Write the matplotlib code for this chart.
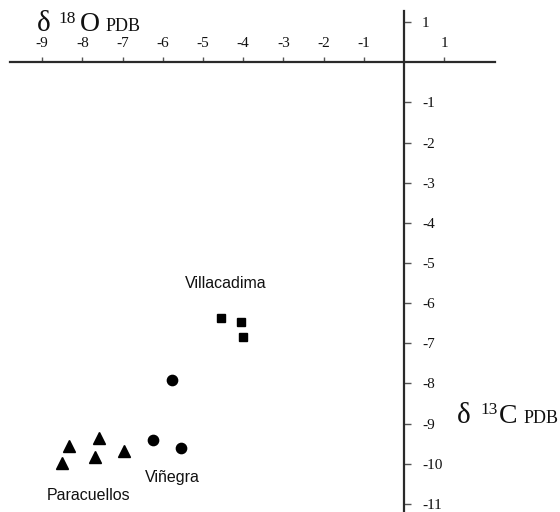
import matplotlib.pyplot as plt
from matplotlib import font_manager

# --- data ---
x_ticks = [-9, -8, -7, -6, -5, -4, -3, -2, -1, 1]
y_ticks = [-11, -10, -9, -8, -7, -6, -5, -4, -3, -2, -1, 1]

villacadima_x = [-4.56, -4.05, -4.00]
villacadima_y = [-6.36, -6.48, -6.84]

vinegra_x = [-5.77, -6.24, -5.55]
vinegra_y = [-7.92, -9.40, -9.60]

paracuellos_x = [-8.33, -7.58, -8.50, -7.69, -6.96]
paracuellos_y = [-9.56, -9.35, -9.97, -9.83, -9.67]

group_labels = ['Villacadima', 'Viñegra', 'Paracuellos']
label_x = [-4.44, -5.76, -7.85]
label_y = [-5.63, -10.45, -10.89]

# --- fonts ---
names = {f.name for f in font_manager.fontManager.ttflist}
sans = ['Liberation Sans Narrow', 'Liberation Sans'] if 'Liberation Sans Narrow' in names else ['Liberation Sans']
serif = 'Liberation Serif'

fig = plt.figure(figsize=(5.6, 5.12), dpi=100)
ax = fig.add_axes([0, 0, 1, 1])
ax.set_xlim(-10.05, 3.88)
ax.set_ylim(-11.2, 1.55)

# axes crossing at origin
ax.spines['left'].set_visible(False)
ax.spines['bottom'].set_visible(False)
ax.spines['top'].set_position(('data', 0))
ax.spines['right'].set_position(('data', 0))
ax.spines['top'].set_bounds(-9.8, 2.26)
ax.spines['right'].set_bounds(-11.3, 1.27)
for s in ['top', 'right']:
    ax.spines[s].set_color('#2a2a2a')
    ax.spines[s].set_linewidth(1.6)

ax.xaxis.set_ticks_position('top')
ax.yaxis.set_ticks_position('right')
ax.set_xticks(x_ticks)
ax.set_xticklabels([str(v) for v in x_ticks])
ax.set_yticks(y_ticks)
ax.set_yticklabels([str(v) for v in y_ticks])
ax.tick_params(axis='x', direction='out', length=3.5, width=1, color='#555',
               pad=5, labelsize=11, labelcolor='#111')
ax.tick_params(axis='y', direction='out', length=5, width=1, color='#555',
               pad=8, labelsize=11, labelcolor='#111')
for lab in ax.get_xticklabels() + ax.get_yticklabels():
    lab.set_family(serif)

# points
ax.plot(villacadima_x, villacadima_y, 's', color='black', markersize=6.2, zorder=3)
ax.plot(vinegra_x, vinegra_y, 'o', color='black', markersize=7.4, zorder=3)
ax.plot(paracuellos_x, paracuellos_y, '^', color='black', markersize=9, zorder=3)

for name, lx, ly in zip(group_labels, label_x, label_y):
    ax.text(lx, ly, name, ha='center', va='baseline', family=sans,
            fontsize=11.5, color='#111')

# axis titles: delta 18O PDB (top left) and delta 13C PDB (right)
def piece(x, y, s, size):
    fig.text(x / 560, 1 - y / 512, s, family=serif, fontsize=size,
             ha='left', va='baseline', color='#111')

piece(37, 31, 'δ', 21)
piece(58, 23, '18', 12.5)
piece(80, 31, 'O', 20)
piece(106, 31, 'PDB', 13)

piece(457, 423, 'δ', 21)
piece(480, 414, '13', 12.5)
piece(499, 423, 'C', 20)
piece(524, 423, 'PDB', 13)

fig.savefig('out.png', dpi=100)
